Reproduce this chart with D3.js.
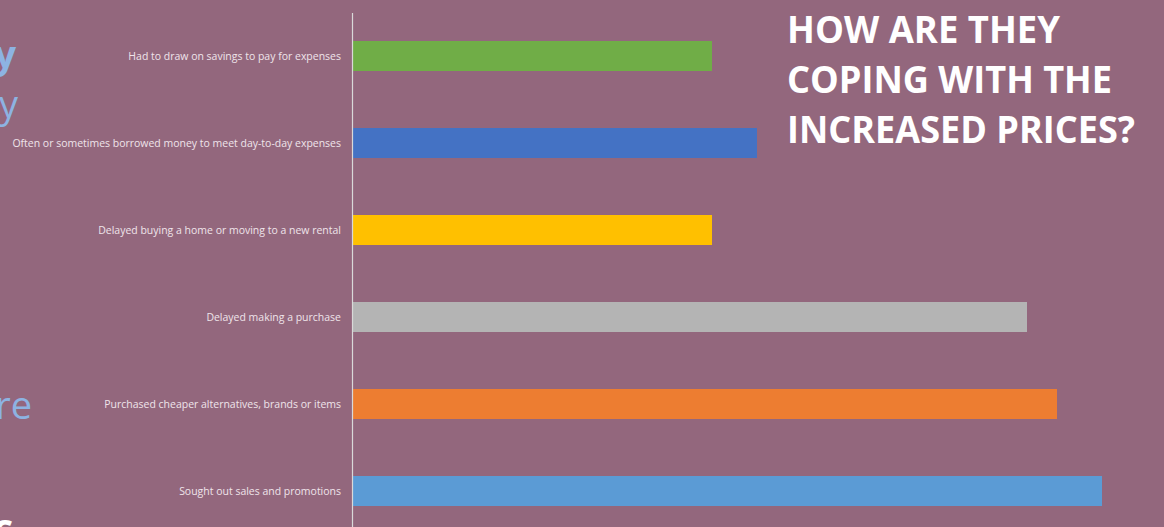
<!DOCTYPE html>
<html><head><meta charset="utf-8">
<script src="https://cdn.jsdelivr.net/npm/d3@7"></script>
<style>html,body{margin:0;padding:0;background:#93677D;overflow:hidden}</style>
</head><body>
<svg id="c" width="1164" height="527"></svg>
<script>
const categories = [
  "Had to draw on savings to pay for expenses",
  "Often or sometimes borrowed money to meet day-to-day expenses",
  "Delayed buying a home or moving to a new rental",
  "Delayed making a purchase",
  "Purchased cheaper alternatives, brands or items",
  "Sought out sales and promotions"
];
const values = [24, 27, 24, 45, 47, 50];
const colors = ["#70AD47", "#4472C4", "#FFC000", "#B4B4B4", "#ED7D31", "#5B9BD5"];
const titleLines = ["HOW ARE THEY", "COPING WITH THE", "INCREASED PRICES?"];

const svg = d3.select("#c");
svg.append("rect").attr("width",1164).attr("height",527).attr("fill","#93677D");

const x = d3.scaleLinear().domain([0, 50]).range([352, 1102]);
const y = d3.scalePoint().domain(categories).range([56, 491]);
const barH = 30;

// left cropped slide text fragments
const frag = svg.append("g").attr("font-family","'Open Sans', sans-serif");
frag.append("text").attr("x",16).attr("y",68).attr("text-anchor","end").attr("font-size",38).attr("font-weight","bold").attr("fill","#8DB3E2").text("y");
frag.append("text").attr("x",18).attr("y",118).attr("text-anchor","end").attr("font-size",38).attr("fill","#8DB3E2").text("y");
frag.append("text").attr("x",32).attr("y",419).attr("text-anchor","end").attr("font-size",38).attr("fill","#8DB3E2").text("re");
frag.append("text").attr("x",13).attr("y",541).attr("text-anchor","end").attr("font-size",38).attr("font-weight","bold").attr("fill","#FFFFFF").text("c");

// bars
svg.append("g").selectAll("rect").data(values).join("rect")
  .attr("x", x(0))
  .attr("y", (d,i) => y(categories[i]) - barH/2)
  .attr("width", d => x(d) - x(0))
  .attr("height", barH)
  .attr("fill", (d,i) => colors[i]);

// axis
const axis = d3.axisLeft(y).tickSize(0).tickPadding(11);
const ag = svg.append("g").attr("transform", `translate(${x(0)},0)`).call(axis);
ag.select(".domain").attr("d", "M0.5,13V527").attr("stroke","#D9D9D9").attr("stroke-width",1.2);
ag.selectAll("text").attr("fill","#EFE4EA").attr("font-family","'Open Sans', sans-serif").attr("font-size",10);
// fit longest label width to reference
let maxW = 0;
ag.selectAll("text").each(function(){ maxW = Math.max(maxW, this.getComputedTextLength()); });
const fs = 10 * 329 / maxW;
ag.selectAll("text").attr("font-size", fs).attr("dy","0.35em");

// title
const tg = svg.append("g").attr("font-family","'Open Sans', sans-serif").attr("font-weight","bold").attr("fill","#FFFFFF");
const widths = [273, 325, 348];
titleLines.forEach((t,i) => {
  const el = tg.append("text").attr("x",787).attr("y",43 + i*50).attr("font-size",37).text(t);
  const w = el.node().getComputedTextLength();
  el.attr("textLength", widths[i]).attr("lengthAdjust","spacingAndGlyphs");
});
</script>
</body></html>
